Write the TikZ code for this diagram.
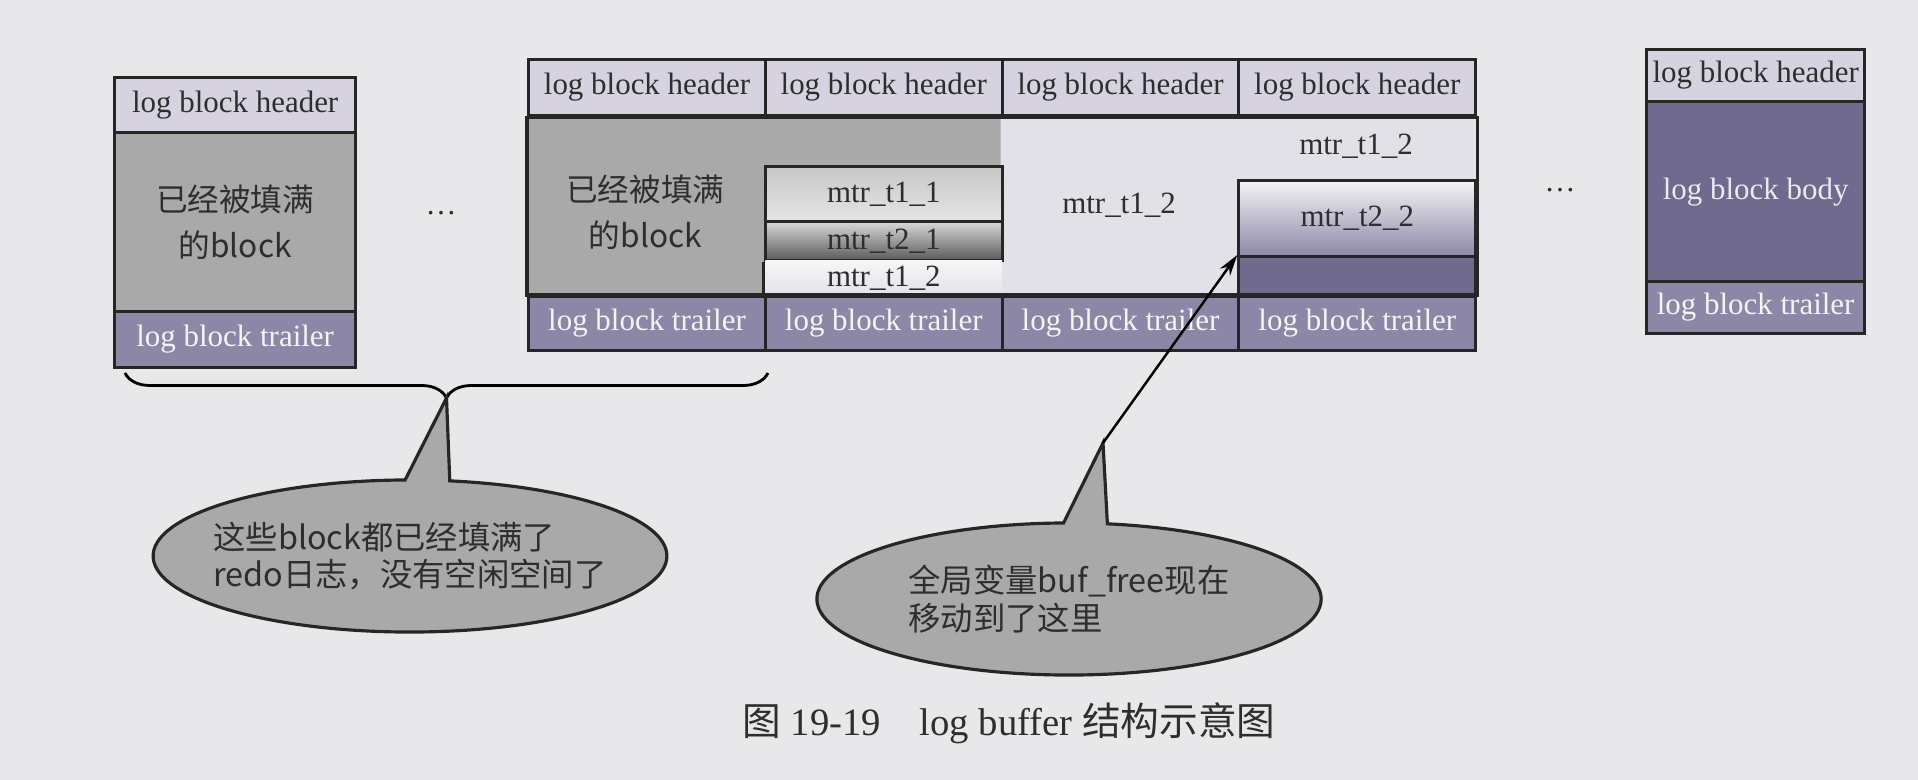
\documentclass[tikz,border=0pt]{standalone}
\usepackage{fontspec}
\setmainfont{Liberation Serif}
\newfontfamily\cjk{Noto Sans CJK SC}
\usetikzlibrary{positioning,shapes.callouts,decorations.pathreplacing,arrows.meta}

\definecolor{paper}{HTML}{E8E8EA}
\definecolor{hdrfill}{HTML}{D6D2DF}
\definecolor{fullfill}{HTML}{A9A9A9}
\definecolor{trlfill}{HTML}{8C87A6}
\definecolor{freefill}{HTML}{6F6A8E}
\definecolor{lightfill}{HTML}{E2E1E8}
\definecolor{inkgray}{HTML}{2E2E2E}

\tikzset{
  cell/.style={draw=black!85,line width=0.9pt,inner sep=0pt,anchor=north west,
    text=inkgray,font=\fontsize{8.8}{10}\selectfont},
  hdr/.style={cell,fill=hdrfill},
  trl/.style={cell,fill=trlfill,text=white!90!trlfill},
  lbl/.style={inner sep=0pt,text=inkgray,font=\fontsize{8.8}{10}\selectfont},
  cjklbl/.style={lbl,align=center,font=\cjk\fontsize{9}{13}\selectfont},
  bline/.style={draw=black!85,line width=0.9pt},
  bubble/.style={ellipse callout,draw=black!85,line width=0.9pt,fill=fullfill,
    inner xsep=-0.15cm,inner ysep=0pt,minimum width=5.1cm,minimum height=1.52cm,
    callout pointer arc=10,align=left,text=inkgray,font=\cjk\fontsize{9.2}{10.7}\selectfont}
}

\begin{document}
\begin{tikzpicture}[x=0.01cm,y=-0.01cm]
\fill[paper] (0,0) rectangle (1918,780);

% left full block
\node[hdr,minimum width=2.41cm,minimum height=0.55cm] (lh) at (113,76) {log block header};
\node[cell,fill=fullfill,minimum width=2.41cm,minimum height=1.79cm,align=center,
  font=\cjk\fontsize{9}{13}\selectfont] (lb) at (113,131) {已经被填满\\的block};
\node[trl,minimum width=2.41cm,minimum height=0.56cm] (lt) at (113,310) {log block trailer};
\node[lbl] (dotsl) at (441,213) {\dots};

% big block: body
\fill[lightfill] (527,114) rectangle (1474,295);
\fill[fullfill] (527,114) -- (1000.5,114) -- (1000.5,165) -- (763.75,165)
  -- (763.75,295) -- (527,295) -- cycle;
\node[cjklbl] (full2) at (645.4,212) {已经被填满\\的block};
\node[cell,minimum width=2.3675cm,minimum height=0.55cm,
  top color=black!22,bottom color=black!10] (t11) at (763.75,165) {mtr\_t1\_1};
\node[cell,minimum width=2.3675cm,minimum height=0.39cm,
  top color=black!15,bottom color=black!65] (t21) at (763.75,220) {mtr\_t2\_1};
\node[cell,draw=none,minimum width=2.3675cm,minimum height=0.36cm,
  top color=white!70!lightfill,bottom color=lightfill] (t12) at (763.75,259) {mtr\_t1\_2};
\node[lbl] (m12a) at (1119,205) {mtr\_t1\_2};
\node[lbl] (m12b) at (1356,146) {mtr\_t1\_2};
\node[cell,minimum width=2.3675cm,minimum height=0.76cm,
  top color=white!60!lightfill,bottom color=trlfill] (t22) at (1237.25,179) {mtr\_t2\_2};
\node[cell,fill=freefill,minimum width=2.3675cm,minimum height=0.40cm] (free) at (1237.25,255) {};

% big block: headers and trailers
\foreach \i in {0,...,3} {
  \node[hdr,minimum width=2.3675cm,minimum height=0.56cm] (bh\i) at ({527+236.75*\i},58) {log block header};
  \node[trl,minimum width=2.3675cm,minimum height=0.54cm] (bt\i) at ({527+236.75*\i},295) {log block trailer};
}
\draw[bline] (t21.south west) -- (bt1.north west);
\draw[bline] (bh0.south west) rectangle (bt3.north east);

% right empty block
\node[lbl] (dotsr) at (1560,190) {\dots};
\node[hdr,minimum width=2.18cm,minimum height=0.52cm] (rh) at (1645,48) {log block header};
\node[cell,fill=freefill,text=white!85!freefill,minimum width=2.18cm,minimum height=1.80cm] (rb) at (1645,100) {log block body};
\node[trl,minimum width=2.18cm,minimum height=0.52cm] (rt) at (1645,280) {log block trailer};

% brace and notes
\coordinate (bra) at (125,373);
\coordinate (brb) at (768,373);
\draw[line width=0.8pt,decorate,decoration={brace,mirror,amplitude=0.25cm}] (bra) -- (brb);
\coordinate (brtip) at (446.5,398);
\node[bubble,callout absolute pointer={(brtip)}] (note1) at (410,556)
  {这些block都已经填满了\\redo日志，没有空闲空间了};

\coordinate (tip2) at (1103,443);
\node[bubble,minimum width=5.04cm,callout absolute pointer={(tip2)}] (note2) at (1069,599)
  {全局变量buf\_free现在\\移动到了这里};
\draw[line width=0.7pt,-{Stealth[length=6pt,width=3.5pt]}] (tip2) -- (free.north west);

% caption
\node[text=inkgray,font=\fontsize{11}{13}\selectfont] (cap) at (1009,723)
  {{\cjk 图} 19-19\quad log buffer {\cjk 结构示意图}};
\end{tikzpicture}
\end{document}
